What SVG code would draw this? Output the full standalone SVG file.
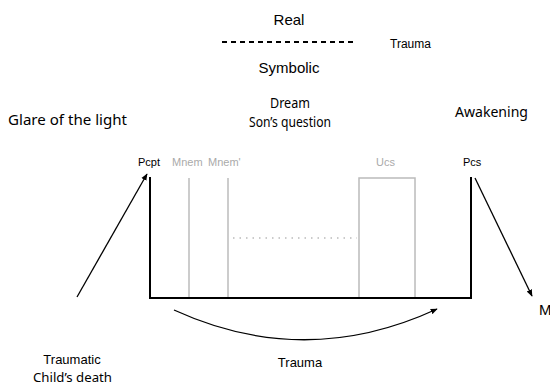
<svg xmlns="http://www.w3.org/2000/svg" width="550" height="387" viewBox="0 0 550 387">
<defs>
<marker id="ah" viewBox="0 0 10 10" refX="9" refY="5" markerWidth="7" markerHeight="7" orient="auto-start-reverse" markerUnits="userSpaceOnUse">
<path d="M0,1 L10,5 L0,9 Z" fill="#000"/>
</marker>
<style>
.h{font-family:"Liberation Sans",Arial,sans-serif;fill:#000}
.c{font-family:"Comic Sans MS","Noto Sans","DejaVu Sans",sans-serif;fill:#000;font-size:14px}
.g{font-family:"Liberation Sans",Arial,sans-serif;fill:#aaa;font-size:11px}
.k{stroke:#000;stroke-width:2;fill:none}
.gl{stroke:#bbb;stroke-width:1.5;fill:none}
.ar{stroke:#000;stroke-width:1.3;fill:none;marker-end:url(#ah)}
</style>
</defs>
<rect width="550" height="387" fill="#fff"/>
<g id="real"><text class="h" x="289" y="25" font-size="15" text-anchor="middle">Real</text></g>
<g id="divider"><line x1="222" y1="42" x2="356" y2="42" stroke="#000" stroke-width="2" stroke-dasharray="5,4"/></g>
<g id="trauma-top"><text class="h" x="390" y="48" font-size="12">Trauma</text></g>
<g id="symbolic"><text class="h" x="289" y="73" font-size="15" text-anchor="middle">Symbolic</text></g>
<g id="glare"><text class="c" x="8" y="125" textLength="119" lengthAdjust="spacingAndGlyphs">Glare of the light</text></g>
<g id="dream"><text class="c" x="270" y="108" textLength="40" lengthAdjust="spacingAndGlyphs">Dream</text><text class="c" x="249" y="127" textLength="82" lengthAdjust="spacingAndGlyphs">Son’s question</text></g>
<g id="awakening"><text class="c" x="455" y="117" textLength="73" lengthAdjust="spacingAndGlyphs">Awakening</text></g>
<g id="apparatus">
<text class="h" x="138" y="166" font-size="11">Pcpt</text>
<text class="g" x="172" y="166">Mnem</text>
<text class="g" x="208" y="166">Mnem'</text>
<text class="g" x="376" y="166">Ucs</text>
<text class="h" x="463" y="166" font-size="11">Pcs</text>
<line class="gl" x1="189" y1="178" x2="189" y2="298"/>
<line class="gl" x1="228" y1="178" x2="228" y2="298"/>
<rect class="gl" x="359" y="178" width="56" height="120"/>
<line x1="233" y1="238" x2="357" y2="238" stroke="#bbb" stroke-width="1.5" stroke-dasharray="1.5,5"/>
<path class="k" d="M150,177 L150,298 L471,298 L471,177"/>
</g>
<g id="connectors">
<line class="ar" x1="77" y1="297" x2="147" y2="174"/>
<line class="ar" x1="475" y1="178" x2="532" y2="296"/>
<path class="ar" d="M174,310 Q305,370 437,309"/>
</g>
<g id="m"><text class="h" x="539" y="315" font-size="15">M</text></g>
<g id="traumatic"><text class="h" x="72" y="364" font-size="13" text-anchor="middle">Traumatic</text><text class="c" x="33" y="382" style="font-size:13px" textLength="79" lengthAdjust="spacingAndGlyphs">Child’s death</text></g>
<g id="trauma-bottom"><text class="h" x="300" y="367" font-size="13" text-anchor="middle">Trauma</text></g>
</svg>
